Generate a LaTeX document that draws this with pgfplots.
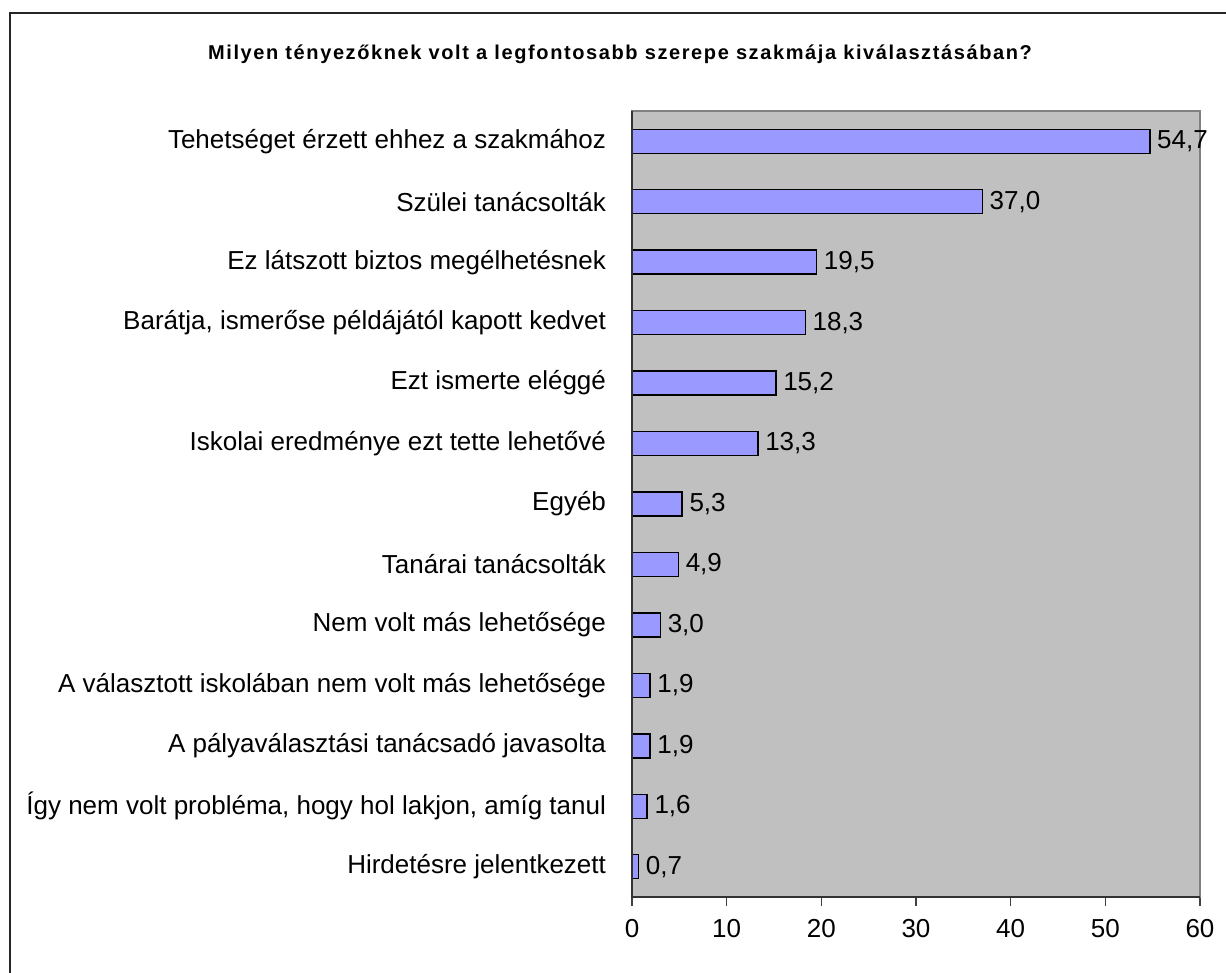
\documentclass[border=0pt]{standalone}
\usepackage{pgfplots}
\pgfplotsset{compat=1.18}
\usepackage{fontspec}
\setmainfont{Liberation Sans}
\definecolor{barblue}{HTML}{9999FF}
\definecolor{plotgray}{HTML}{C0C0C0}
\definecolor{bordergray}{HTML}{808080}
\begin{document}
\begin{tikzpicture}
\path[use as bounding box] (0,0) rectangle (613pt,486.5pt);
\fill[white] (0,0) rectangle (613pt,486.5pt);
\draw[line width=0.8pt,black!85] (5pt,-5pt) -- (5pt,480pt) -- (620pt,480pt);
\node[font=\bfseries\fontsize{10pt}{12pt}\selectfont\addfontfeature{LetterSpace=8}] at (310pt,459.5pt) {Milyen tényezőknek volt a legfontosabb szerepe szakmája kiválasztásában?};
\begin{axis}[
  at={(316pt,38pt)}, anchor=south west,
  scale only axis, width=284pt, height=393pt,
  xbar, bar width=12pt,
  xmin=0, xmax=60,
  ymin=-0.5, ymax=12.5, y dir=reverse,
  ytick={0,...,12},
  yticklabels={Tehetséget érzett ehhez a szakmához,Szülei tanácsolták,Ez látszott biztos megélhetésnek,{Barátja, ismerőse példájától kapott kedvet},Ezt ismerte eléggé,Iskolai eredménye ezt tette lehetővé,Egyéb,Tanárai tanácsolták,Nem volt más lehetősége,A választott iskolában nem volt más lehetősége,A pályaválasztási tanácsadó javasolta,{Így nem volt probléma, hogy hol lakjon, amíg tanul},Hirdetésre jelentkezett},
  ytick style={draw=none},
  yticklabel style={font=\fontsize{13pt}{15pt}\selectfont, xshift=-5pt},
  xtick={0,10,...,60}, xtick pos=bottom,
  xticklabel style={font=\fontsize{13pt}{15pt}\selectfont, yshift=-3pt},
  tick align=outside, major tick length=4.5pt,
  xtick style={black!75, line width=0.8pt},
  /pgf/number format/assume math mode=true,
  axis background/.style={fill=plotgray},
  axis line style={bordergray, line width=0.8pt},
  nodes near coords,
  nodes near coords style={font=\fontsize{13pt}{15pt}\selectfont, /pgf/number format/fixed, /pgf/number format/fixed zerofill, /pgf/number format/precision=1, /pgf/number format/use comma},
  clip=false,
]
\addplot[fill=barblue, draw=black, line width=0.7pt] coordinates {
(54.7,0) (37.0,1) (19.5,2) (18.3,3) (15.2,4) (13.3,5) (5.3,6) (4.9,7) (3.0,8) (1.9,9) (1.9,10) (1.6,11) (0.7,12)
};
\draw[black!80, line width=0.9pt] (rel axis cs:0,1) -- (rel axis cs:0,0) -- (rel axis cs:1,0);
\end{axis}
\end{tikzpicture}
\end{document}
